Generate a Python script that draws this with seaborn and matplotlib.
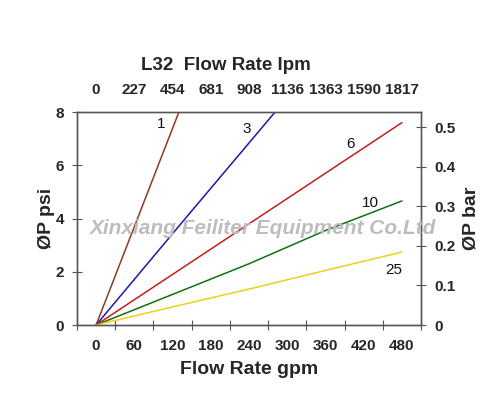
import pandas as pd
import numpy as np
import seaborn as sns
import matplotlib.pyplot as plt

# data (gpm vs psi)
gpm_1 = [0, 65, 130]
psi_1 = [0, 4.0, 8.0]
gpm_3 = [0, 140, 281]
psi_3 = [0, 4.0, 8.0]
gpm_6 = [0, 120, 240, 360, 480]
psi_6 = [0, 1.9, 3.8, 5.7, 7.6]
gpm_10 = [0, 120, 240, 360, 480]
psi_10 = [0, 1.15, 2.3, 3.55, 4.66]
gpm_25 = [0, 120, 240, 360, 480]
psi_25 = [0, 0.68, 1.35, 2.05, 2.74]

series_names = ["1", "3", "6", "10", "25"]
series_colors = ["#8a3c1c", "#1a1aa8", "#c41e1e", "#107010", "#f0cf1e"]
label_pos = [(102, 7.55), (237, 7.35), (400, 6.8), (431, 4.6), (467, 2.05)]

gpm_ticks = [0, 60, 120, 180, 240, 300, 360, 420, 480]
lpm_labels = ["0", "227", "454", "681", "908", "1136", "1363", "1590", "1817"]
psi_ticks = [0, 2, 4, 6, 8]
bar_ticks = [0, 0.1, 0.2, 0.3, 0.4, 0.5]

rows = []
for name, xs, ys in zip(series_names,
                        [gpm_1, gpm_3, gpm_6, gpm_10, gpm_25],
                        [psi_1, psi_3, psi_6, psi_10, psi_25]):
    for x, y in zip(xs, ys):
        rows.append({"gpm": x, "psi": y, "size": name})
df = pd.DataFrame(rows)

sns.set_style("white")
plt.rcParams['font.family'] = ['Liberation Sans', 'DejaVu Sans']

fig = plt.figure(figsize=(5, 3.93), dpi=100)
ax = fig.add_axes([0.154, 0.173, 0.688, 0.542])

sns.lineplot(data=df, x="gpm", y="psi", hue="size", palette=series_colors,
             hue_order=series_names, linewidth=1.1, legend=False, ax=ax,
             estimator=None, sort=False)

for name, (lx, ly) in zip(series_names, label_pos):
    ax.text(lx, ly, name, fontsize=11, ha="center", va="center", color="#111111")

ax.set_xlim(-30, 510)
ax.set_ylim(0, 8)

# major ticks between labels, labels as minor ticks
ax.set_xticks(np.arange(-30, 511, 60))
ax.set_xticklabels([])
ax.set_xticks(gpm_ticks, minor=True)
ax.set_xticklabels([str(t) for t in gpm_ticks], minor=True)
ax.set_yticks(psi_ticks)
ax.set_yticklabels([str(t) for t in psi_ticks])

ax.tick_params(axis="x", which="major", direction="inout", length=7, width=0.8,
               color="#555555", top=True)
ax.tick_params(axis="x", which="minor", length=0, pad=10, labelsize=11)
ax.tick_params(axis="y", which="major", direction="inout", length=7, width=0.8,
               color="#555555", labelsize=11, pad=6)
for lab in ax.get_xticklabels(minor=True) + ax.get_yticklabels():
    lab.set_fontweight("bold")

for s in ax.spines.values():
    s.set_color("#555555")
    s.set_linewidth(0.9)

ax.set_xlabel("Flow Rate gpm", fontsize=14, fontweight="bold", labelpad=6)
ax.set_ylabel("ØP psi", fontsize=14, fontweight="bold")
ax.yaxis.set_label_coords(-0.064, 0.5)

# top axis lpm
top = ax.twiny()
top.set_xlim(ax.get_xlim())
top.set_xticks(gpm_ticks)
top.set_xticklabels(lpm_labels, fontsize=11, fontweight="bold")
top.tick_params(axis="x", length=0, pad=11)
fig.text(0.452, 1 - 65 / 393, "L32  Flow Rate lpm", fontsize=13.5,
         fontweight="bold", ha="center", va="center")

# right axis bar
right = ax.twinx()
right.set_ylim(0, 0.538)
right.set_yticks(bar_ticks)
right.set_yticklabels(["0", "0.1", "0.2", "0.3", "0.4", "0.5"], fontsize=11, fontweight="bold")
right.tick_params(axis="y", direction="inout", length=7, width=0.8, color="#555555", pad=6)
right.set_ylabel("ØP bar", fontsize=14, fontweight="bold")
right.yaxis.set_label_coords(1.122, 0.5)
for s in list(top.spines.values()) + list(right.spines.values()):
    s.set_color("#555555")
    s.set_linewidth(0.9)

fig.text(0.526, 1 - 228 / 393, "Xinxiang Feiliter Equipment Co.Ltd", fontsize=15,
         fontweight="bold", style="italic", color="#bdbdbd", ha="center", va="center")

fig.savefig("out.png", dpi=100)
